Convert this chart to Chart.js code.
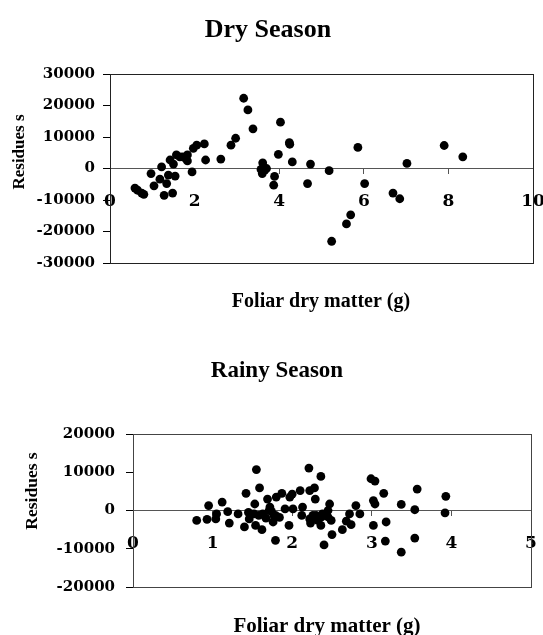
<!DOCTYPE html>
<html>
<head>
<meta charset="utf-8">
<script src="https://cdn.jsdelivr.net/npm/chart.js@4.4.0/dist/chart.umd.min.js"></script>
<style>
    html, body { margin: 0; padding: 0; background: #fff; overflow: hidden; }
    #dryBox { position: absolute; left: 0; top: 0; width: 543px; height: 335px; }
    #rainyBox { position: absolute; left: 0; top: 335px; width: 543px; height: 300px; }
</style>
</head>
<body>
<div id="dryBox"><canvas id="dryChart" width="543" height="335"></canvas></div>
<div id="rainyBox"><canvas id="rainyChart" width="543" height="300"></canvas></div>
<script>
// Dry season residues
const dryX = [0.59, 0.65, 0.75, 0.80, 0.97, 1.04, 1.18, 1.22, 1.28, 1.34, 1.38, 1.42, 1.48, 1.50, 1.54,
    1.57, 1.65, 1.72, 1.79, 1.83, 1.83, 1.94, 1.97, 2.05, 2.23, 2.26, 2.62, 2.86, 2.97, 3.16,
    3.26, 3.38, 3.57, 3.60, 3.61, 3.66, 3.70, 3.87, 3.89, 3.98, 4.03, 4.24, 4.25, 4.31, 4.67,
    4.74, 5.18, 5.24, 5.59, 5.69, 5.86, 6.02, 6.69, 6.85, 7.02, 7.90, 8.34];
const dryY = [-6200, -6900, -7800, -8200, -1600, -5500, -3400, 500, -8500, -4800, -2100, 2700, -7800, 1400, -2400,
    4300, 3700, 3700, 3200, 4300, 2400, -1100, 6400, 7400, 7800, 2700, 3000, 7400, 9600, 22300,
    18600, 12600, -300, -1600, 1800, -500, 0, -5300, -2500, 4500, 14700, 8200, 7700, 2100, -4800,
    1400, -700, -23100, -17600, -14700, 6700, -4800, -7800, -9600, 1600, 7300, 3700];

// Rainy season residues
const rainyX = [0.80, 0.93, 0.95, 1.04, 1.05, 1.12, 1.19, 1.21, 1.32, 1.40, 1.42, 1.45, 1.46, 1.52, 1.53,
    1.54, 1.55, 1.58, 1.59, 1.62, 1.63, 1.67, 1.69, 1.71, 1.72, 1.74, 1.76, 1.77, 1.79, 1.79,
    1.80, 1.84, 1.87, 1.91, 1.96, 1.97, 2.00, 2.01, 2.10, 2.12, 2.13, 2.21, 2.22, 2.22, 2.23,
    2.26, 2.28, 2.29, 2.30, 2.32, 2.36, 2.36, 2.37, 2.38, 2.40, 2.45, 2.45, 2.47, 2.49, 2.50,
    2.63, 2.68, 2.72, 2.74, 2.80, 2.85, 2.99, 3.02, 3.02, 3.04, 3.04, 3.15, 3.17, 3.18, 3.37,
    3.37, 3.54, 3.54, 3.57, 3.92, 3.93];
const rainyY = [-2600, -2300, 1300, -2200, -900, 2200, -300, -3300, -900, -4300, 4500, -500, -2200, -900, 1700,
    -3900, 10700, -1300, 5900, -5000, -900, -2000, 3000, 0, 900, -200, -3000, -1300, -7800, -1300,
    3500, -1800, 4500, 400, -3900, 3500, 4300, 400, 5200, -1300, 900, 11100, 5200, -2200, -3300,
    -1300, 5900, 3000, -1300, -2600, 8900, -3900, -1700, -900, -9000, 0, -1700, 1700, -2600, -6300,
    -5000, -2800, -900, -3700, 1300, -900, 8300, 2600, -3900, 7700, 1700, 4500, -8000, -3000, 1600,
    -10900, 200, -7200, 5600, -600, 3700];

const tickFont = 'DejaVu Serif';
const labelFont = 'Liberation Serif';

// Free text (titles, axis titles) at fixed spots
const textPlugin = {
    id: 'freeText',
    afterDraw(chart, args, opts) {
        const ctx = chart.ctx;
        (opts.items || []).forEach(t => {
            ctx.save();
            ctx.font = t.font;
            ctx.fillStyle = '#000';
            ctx.textAlign = 'center';
            ctx.textBaseline = 'alphabetic';
            ctx.translate(t.x, t.y);
            if (t.rotate) ctx.rotate(t.rotate);
            ctx.fillText(t.text, 0, 0);
            ctx.restore();
        });
    }
};

// Plot area frame
const framePlugin = {
    id: 'frame',
    beforeDatasetsDraw(chart, args, opts) {
        const a = chart.chartArea;
        const ctx = chart.ctx;
        ctx.save();
        ctx.strokeStyle = opts.color || '#000';
        ctx.lineWidth = 1;
        ctx.strokeRect(Math.round(a.left) + 0.5, Math.round(a.top) + 0.5,
            Math.round(a.right - a.left), Math.round(a.bottom - a.top));
        ctx.restore();
    }
};

function toPoints(xs, ys) {
    return xs.map((x, i) => ({ x: x, y: ys[i] }));
}

function makeChart(canvasId, cfg) {
    return new Chart(document.getElementById(canvasId), {
        type: 'scatter',
        data: {
            datasets: [{
                data: toPoints(cfg.xs, cfg.ys),
                backgroundColor: '#000',
                borderWidth: 0,
                pointRadius: 4.4,
                pointHoverRadius: 4.4
            }]
        },
        options: {
            responsive: false,
            animation: false,
            layout: { padding: cfg.padding },
            plugins: {
                legend: { display: false },
                tooltip: { enabled: false },
                title: { display: false },
                frame: { color: cfg.frameColor },
                freeText: { items: cfg.texts }
            },
            scales: {
                x: {
                    type: 'linear',
                    position: { y: 0 },
                    min: 0,
                    max: cfg.xMax,
                    ticks: {
                        stepSize: cfg.xStep,
                        padding: 18,
                        color: '#000',
                        maxRotation: 0,
                        font: { family: tickFont, weight: 'bold', size: 17 }
                    },
                    grid: { drawOnChartArea: false, tickLength: 5, color: '#555' },
                    border: { color: '#555' },
                    afterFit: s => { s.height = 0; s.paddingLeft = 0; s.paddingRight = 0; }
                },
                y: {
                    min: cfg.yMin,
                    max: cfg.yMax,
                    ticks: {
                        stepSize: 10000,
                        padding: cfg.yPad,
                        color: '#000',
                        font: { family: tickFont, weight: 'bold', size: 15 },
                        callback: v => String(v)
                    },
                    grid: { drawOnChartArea: false, tickLength: 7, color: '#000' },
                    border: { color: '#000' },
                    afterFit: s => { s.width = cfg.axisLeft; s.paddingTop = 0; s.paddingBottom = 0; }
                }
            }
        },
        plugins: [framePlugin, textPlugin]
    });
}

document.addEventListener('DOMContentLoaded', function() {
    makeChart('dryChart', {
        xs: dryX, ys: dryY,
        xMax: 10, xStep: 2,
        yMin: -30000, yMax: 30000, yPad: 8,
        axisLeft: 110,
        padding: { top: 74, right: 10, bottom: 72, left: 0 },
        frameColor: '#222',
        texts: [
            { text: 'Dry Season', x: 268, y: 37, font: 'bold 26px "' + labelFont + '"' },
            { text: 'Foliar dry matter (g)', x: 321, y: 307, font: 'bold 20px "' + labelFont + '"' },
            { text: 'Residues s', x: 24, y: 152, rotate: -Math.PI / 2, font: 'bold 17px "' + labelFont + '"' }
        ]
    });

    makeChart('rainyChart', {
        xs: rainyX, ys: rainyY,
        xMax: 5, xStep: 1,
        yMin: -20000, yMax: 20000, yPad: 11,
        axisLeft: 133,
        padding: { top: 99, right: 12, bottom: 48, left: 0 },
        frameColor: '#444',
        texts: [
            { text: 'Rainy Season', x: 277, y: 42, font: 'bold 23px "' + labelFont + '"' },
            { text: 'Foliar dry matter (g)', x: 327, y: 297, font: 'bold 21px "' + labelFont + '"' },
            { text: 'Residues s', x: 37, y: 156, rotate: -Math.PI / 2, font: 'bold 17.5px "' + labelFont + '"' }
        ]
    });
});
</script>
</body>
</html>
